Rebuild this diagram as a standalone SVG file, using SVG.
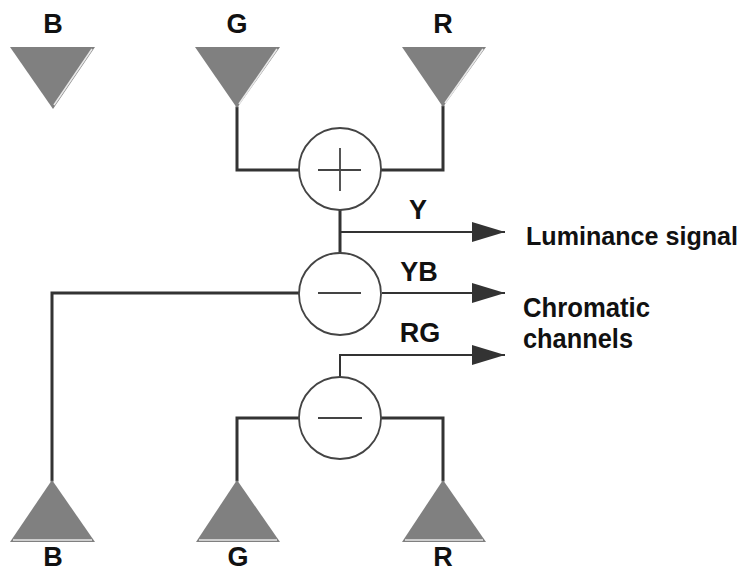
<svg xmlns="http://www.w3.org/2000/svg" width="749" height="573" viewBox="0 0 749 573">
<style>
.tri{fill:#808080;stroke:none}
.hl{stroke:#e8e8e8;stroke-width:1.6;fill:none}
.wire{stroke:#333;stroke-width:3;fill:none;stroke-linejoin:miter;stroke-linecap:square}
.out{stroke:#333;stroke-width:2;fill:none}
.op{fill:#fff;stroke:#444;stroke-width:1.8}
.sign{stroke:#444;stroke-width:1.8;fill:none}
.lbl{font-family:"Liberation Sans",Arial,sans-serif;font-weight:bold;font-size:27px;fill:#111}
.lum{font-size:25px}
</style>
<defs>
<marker id="ah" markerUnits="userSpaceOnUse" markerWidth="34" markerHeight="22" refX="33" refY="10" orient="auto">
<path d="M0,0 L33,10 L0,20 Z" fill="#333"/>
</marker>
</defs>
<g id="connectors">
<path class="wire" d="M237,108 V170 H298"/>
<path class="wire" d="M443,107 V170 H382"/>
<path class="wire" d="M340,211 V253"/>
<path class="out" d="M341,232 H505" marker-end="url(#ah)"/>
<path class="out" d="M382,293 H505" marker-end="url(#ah)"/>
<path class="wire" d="M298,293 H52 V480"/>
<path class="out" d="M340,377 V355 H505" marker-end="url(#ah)"/>
<path class="wire" d="M298,418 H237 V480"/>
<path class="wire" d="M381,418 H443 V480"/>
</g>
<g id="B-top">
<polygon class="tri" points="10,47 95,47 53,109"/>
<line class="hl" x1="92" y1="49" x2="54" y2="105"/>
<text class="lbl" x="53" y="33" text-anchor="middle">B</text>
</g>
<g id="G-top">
<polygon class="tri" points="195,47 280,47 237,108"/>
<line class="hl" x1="277" y1="49" x2="239" y2="104"/>
<text class="lbl" x="237" y="33" text-anchor="middle">G</text>
</g>
<g id="R-top">
<polygon class="tri" points="402,47 486,47 443,107"/>
<line class="hl" x1="483" y1="49" x2="445" y2="103"/>
<text class="lbl" x="443" y="33" text-anchor="middle">R</text>
</g>
<g id="plus">
<circle class="op" cx="340" cy="169" r="41"/>
<path class="sign" d="M318,170 H361 M340,148 V191"/>
</g>
<g id="minus-yb">
<circle class="op" cx="340" cy="294" r="41"/>
<path class="sign" d="M318,293 H361"/>
</g>
<g id="minus-rg">
<circle class="op" cx="340" cy="418" r="41"/>
<path class="sign" d="M318,418 H362"/>
</g>
<g id="B-bottom">
<polygon class="tri" points="52,480 95,542 10,542"/>
<line class="hl" x1="13" y1="540" x2="92" y2="540"/>
<text class="lbl" x="53" y="566" text-anchor="middle">B</text>
</g>
<g id="G-bottom">
<polygon class="tri" points="237,480 280,542 196,542"/>
<line class="hl" x1="199" y1="540" x2="277" y2="540"/>
<text class="lbl" x="238" y="566" text-anchor="middle">G</text>
</g>
<g id="R-bottom">
<polygon class="tri" points="443,480 486,542 402,542"/>
<line class="hl" x1="405" y1="540" x2="483" y2="540"/>
<text class="lbl" x="443" y="566" text-anchor="middle">R</text>
</g>
<g id="labels">
<text class="lbl" x="418" y="219" text-anchor="middle">Y</text>
<text class="lbl" x="419" y="281" text-anchor="middle">YB</text>
<text class="lbl" x="420" y="342" text-anchor="middle">RG</text>
<text class="lbl lum" x="526" y="245" textLength="212" lengthAdjust="spacingAndGlyphs">Luminance signal</text>
<text class="lbl" x="523" y="317" textLength="127" lengthAdjust="spacingAndGlyphs">Chromatic</text>
<text class="lbl" x="523" y="348" textLength="110" lengthAdjust="spacingAndGlyphs">channels</text>
</g>
</svg>
